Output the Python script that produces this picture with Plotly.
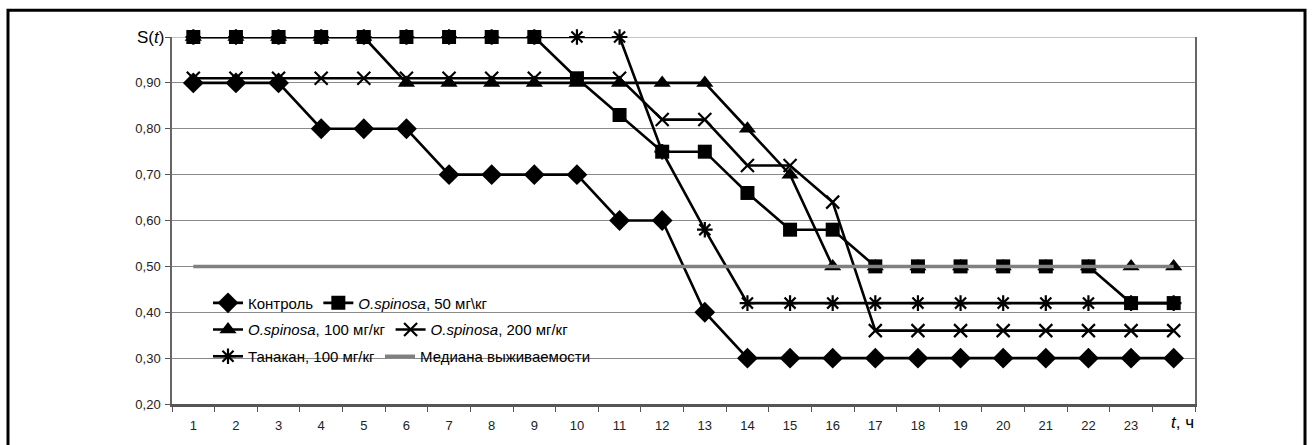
import plotly.graph_objects as go

hours = list(range(1, 25))
tick_labels = [str(i) for i in range(1, 24)]

control = [0.90, 0.90, 0.90, 0.80, 0.80, 0.80, 0.70, 0.70, 0.70, 0.70, 0.60, 0.60,
           0.40, 0.30, 0.30, 0.30, 0.30, 0.30, 0.30, 0.30, 0.30, 0.30, 0.30, 0.30]
os50 = [1.00, 1.00, 1.00, 1.00, 1.00, 1.00, 1.00, 1.00, 1.00, 0.91, 0.83, 0.75,
        0.75, 0.66, 0.58, 0.58, 0.50, 0.50, 0.50, 0.50, 0.50, 0.50, 0.42, 0.42]
os100 = [1.00, 1.00, 1.00, 1.00, 1.00, 0.90, 0.90, 0.90, 0.90, 0.90, 0.90, 0.90,
         0.90, 0.80, 0.70, 0.50, 0.50, 0.50, 0.50, 0.50, 0.50, 0.50, 0.50, 0.50]
os200 = [0.91, 0.91, 0.91, 0.91, 0.91, 0.91, 0.91, 0.91, 0.91, 0.91, 0.91, 0.82,
         0.82, 0.72, 0.72, 0.64, 0.36, 0.36, 0.36, 0.36, 0.36, 0.36, 0.36, 0.36]
tanakan = [1.00, 1.00, 1.00, 1.00, 1.00, 1.00, 1.00, 1.00, 1.00, 1.00, 1.00, 0.75,
           0.58, 0.42, 0.42, 0.42, 0.42, 0.42, 0.42, 0.42, 0.42, 0.42, 0.42, 0.42]
median = [0.50, 0.50, 0.50, 0.50, 0.50, 0.50, 0.50, 0.50, 0.50, 0.50, 0.50, 0.50,
          0.50, 0.50, 0.50, 0.50, 0.50, 0.50, 0.50, 0.50, 0.50, 0.50, 0.50, 0.50]

y_ticks = [0.2, 0.3, 0.4, 0.5, 0.6, 0.7, 0.8, 0.9, 1.0]
y_tick_labels = ["0,20", "0,30", "0,40", "0,50", "0,60", "0,70", "0,80", "0,90", ""]

FONT = "Liberation Sans, Arial, sans-serif"
LW = 2.6

fig = go.Figure()

def add_series(y, name, symbol, size, legend, open_marker=False):
    if open_marker:
        marker = dict(symbol=symbol, size=size, color="black",
                      line=dict(color="black", width=2.2))
    else:
        marker = dict(symbol=symbol, size=size, color="black",
                      line=dict(color="black", width=0))
    fig.add_trace(go.Scatter(x=hours, y=y, name=name, mode="lines+markers",
                             line=dict(color="black", width=LW),
                             marker=marker, legend=legend, cliponaxis=False))

add_series(control, "Контроль", "diamond", 16, "legend")
add_series(os50, "<i>O.spinosa</i>, 50 мг\\кг", "square", 14, "legend")
add_series(os100, "<i>O.spinosa</i>, 100 мг/кг", "triangle-up", 15, "legend2")
add_series(os200, "<i>O.spinosa</i>, 200 мг/кг", "x-thin-open", 13, "legend2", True)
add_series(tanakan, "Танакан, 100 мг/кг", "asterisk-open", 13, "legend3", True)
fig.add_trace(go.Scatter(x=hours, y=median, name="Медиана выживаемости", mode="lines",
                         line=dict(color="#808080", width=3.5), legend="legend3",
                         cliponaxis=False))

L, R, T, B = 172, 1195, 37, 408
W, H = R - L, B - T

def px(xp):
    return (xp - L) / W

def py(yp):
    return (B - yp) / H

# legend background box
fig.add_shape(type="rect", xref="paper", yref="paper",
              x0=px(207), x1=px(605), y0=py(372), y1=py(293),
              fillcolor="white", line=dict(width=0), layer="between")
# top gridline at 1.00
fig.add_shape(type="line", xref="paper", yref="y", x0=0, x1=1, y0=1.0, y1=1.0,
              line=dict(color="#8a8a8a", width=1), layer="between")
# outer frame
fig.add_shape(type="rect", xref="paper", yref="paper",
              x0=px(8), x1=px(1305), y0=py(460), y1=py(10),
              fillcolor="rgba(0,0,0,0)", line=dict(color="black", width=3),
              layer="above")

fig.add_annotation(xref="paper", yref="y", x=px(166), y=1.0, xanchor="right",
                   yanchor="middle", text="S(<i>t</i>)", showarrow=False,
                   font=dict(family=FONT, size=17, color="black"))
fig.add_annotation(xref="x", yref="paper", x=24, y=0, xshift=9, yshift=-7,
                   xanchor="center", yanchor="top", text="<i>t</i>, ч",
                   showarrow=False, font=dict(family=FONT, size=17, color="black"))

leg_common = dict(orientation="h", xanchor="left", yanchor="middle",
                  bgcolor="rgba(0,0,0,0)", borderwidth=0,
                  font=dict(family=FONT, size=15, color="black"),
                  itemwidth=30, tracegroupgap=0)

fig.update_layout(
    width=1315, height=445,
    margin=dict(l=L, r=1315 - R, t=T, b=445 - B),
    paper_bgcolor="white", plot_bgcolor="white",
    showlegend=True,
    legend=dict(x=px(208), y=py(306), **leg_common),
    legend2=dict(x=px(208), y=py(333), **leg_common),
    legend3=dict(x=px(208), y=py(360), **leg_common),
    xaxis=dict(range=[0.5, 24.5], tickmode="array", tickvals=list(range(1, 24)),
               ticktext=tick_labels, ticks="", showgrid=False, zeroline=False,
               showline=True, linecolor="#555555", linewidth=2.5,
               tickfont=dict(family=FONT, size=13, color="#222222"),
               ticklabelstandoff=8,
               minor=dict(tickmode="array",
                          tickvals=[i + 0.5 for i in range(0, 25)],
                          ticks="outside", ticklen=5, tickcolor="#555555",
                          tickwidth=1, showgrid=False)),
    yaxis=dict(range=[0.2, 1.0], tickmode="array", tickvals=y_ticks,
               ticktext=y_tick_labels, ticks="outside", ticklen=5,
               tickcolor="#555555", showgrid=True, gridcolor="#8a8a8a",
               gridwidth=1, zeroline=False, showline=True, linecolor="#666666",
               linewidth=1.5, mirror=True,
               tickfont=dict(family=FONT, size=13, color="#222222"),
               ticklabelstandoff=2),
)

fig.write_html("out.html", config={"displayModeBar": False},
               post_script="document.body.style.margin='0';document.body.style.overflow='hidden';")
